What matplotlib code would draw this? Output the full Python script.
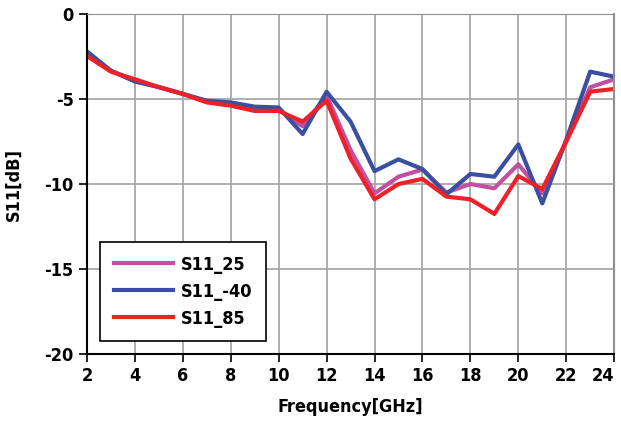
import numpy as np
import matplotlib
matplotlib.use("Agg")
import matplotlib.pyplot as plt

plt.rcParams['font.family'] = ['DejaVu Sans']
plt.rcParams['font.stretch'] = 'condensed'
plt.rcParams['font.weight'] = 'bold'
plt.rcParams['axes.unicode_minus'] = False

freq = [2, 3, 4, 5, 6, 7, 8, 9, 10, 11, 12, 13, 14, 15, 16, 17, 18, 19, 20, 21, 22, 23, 24]
s11_25 = [-2.35, -3.35, -3.95, -4.3, -4.7, -5.15, -5.3, -5.55, -5.6, -6.6, -4.8, -8.0, -10.55, -9.57, -9.15,
          -10.5, -10.0, -10.25, -8.84, -10.55, -7.5, -4.31, -3.84]
s11_m40 = [-2.2, -3.33, -3.97, -4.3, -4.7, -5.1, -5.2, -5.45, -5.5, -7.06, -4.57, -6.33, -9.24, -8.55, -9.12,
           -10.6, -9.41, -9.57, -7.67, -11.14, -7.4, -3.39, -3.69]
s11_85 = [-2.47, -3.39, -3.84, -4.3, -4.7, -5.2, -5.39, -5.7, -5.7, -6.33, -5.1, -8.5, -10.9, -10.0, -9.7,
          -10.74, -10.9, -11.76, -9.53, -10.3, -7.5, -4.57, -4.41]

fig = plt.figure(figsize=(6.21, 4.24), dpi=100)
ax = fig.add_axes([0.140, 0.165, 0.849, 0.802])

ax.plot(freq, s11_25, color='#C050A0', lw=3.0, label='S11_25')
ax.plot(freq, s11_m40, color='#3A4FA0', lw=3.0, label='S11_-40')
ax.plot(freq, s11_85, color='#EE2028', lw=3.0, label='S11_85')

ax.set_xlim(2, 24)
ax.set_ylim(-20, 0)
ax.set_xticks(np.arange(2, 25, 2))
ax.set_yticks(np.arange(-20, 1, 5))
ax.grid(True, color='#A8A8A8', lw=1.3)
ax.set_axisbelow(True)
ax.tick_params(labelsize=13, length=6, width=1.2, direction='out')
for lab in ax.get_xticklabels() + ax.get_yticklabels():
    lab.set_fontweight('bold')
    lab.set_fontstretch('condensed')
# keep the last x label inside the figure
ax.get_xticklabels()[-1].set_horizontalalignment('right')
ax.spines['left'].set_linewidth(1.5)
ax.spines['bottom'].set_linewidth(1.5)
ax.spines['top'].set_color('#909090')
ax.spines['right'].set_color('#909090')
ax.spines['right'].set_linewidth(1.5)

ax.set_xlabel('Frequency[GHz]', fontsize=13, fontweight='bold', labelpad=9)
ax.set_ylabel('S11[dB]', fontsize=13, fontweight='bold', labelpad=16)

leg = ax.legend(loc='lower left', bbox_to_anchor=(0.025, 0.038), borderaxespad=0, fontsize=13,
                frameon=True, fancybox=False, edgecolor='black', framealpha=1, handlelength=3.3,
                borderpad=0.75, labelspacing=0.5, handletextpad=0.4)
leg.get_frame().set_linewidth(1.2)

fig.savefig('out.png', dpi=100)
